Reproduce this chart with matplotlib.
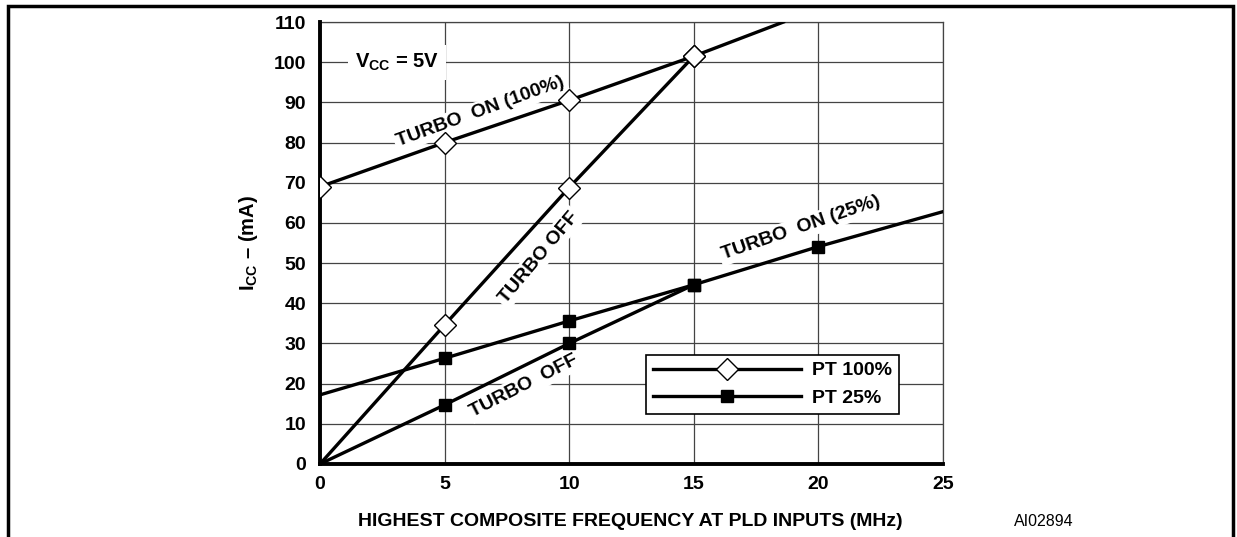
import matplotlib
matplotlib.use("Agg")
import matplotlib.pyplot as plt
from matplotlib.lines import Line2D
from matplotlib.patches import Rectangle

plt.rcParams['font.family'] = ['Liberation Sans', 'DejaVu Sans']
plt.rcParams['font.weight'] = 'bold'
plt.rcParams['mathtext.fontset'] = 'custom'
plt.rcParams['mathtext.rm'] = 'Liberation Sans:bold'
plt.rcParams['mathtext.bf'] = 'Liberation Sans:bold'

# PT 100%
on100_x = [0, 5, 10, 15, 18.6]
on100_y = [69, 80, 90.5, 101.5, 110]
off100_x = [0, 5, 10, 15]
off100_y = [0, 34.6, 68.8, 101.5]
# PT 25%
on25_x = [0, 5, 10, 15, 20, 25]
on25_y = [17.2, 26.3, 35.6, 44.6, 54.1, 62.8]
off25_x = [0, 5, 10, 15]
off25_y = [0, 14.7, 30.0, 44.6]

xticks = [0, 5, 10, 15, 20, 25]
yticks = list(range(0, 111, 10))

fig = plt.figure(figsize=(12.37, 5.37), dpi=100)
ax = fig.add_axes([0.2587, 0.136, 0.5036, 0.823])

lw = 2.4
ax.plot(on100_x, on100_y, color='black', lw=lw, zorder=3)
ax.plot(off100_x, off100_y, color='black', lw=lw, zorder=3)
ax.plot(on25_x, on25_y, color='black', lw=lw, zorder=3)
ax.plot(off25_x, off25_y, color='black', lw=lw, zorder=3)

dia = dict(ls='none', marker='D', ms=11, mfc='white', mec='black', mew=1.0, zorder=5)
sq = dict(ls='none', marker='s', ms=8, mfc='black', mec='black', zorder=5)
ax.plot(on100_x[:4], on100_y[:4], **dia)
ax.plot(off100_x[1:], off100_y[1:], **dia)
ax.plot(on25_x[1:5], on25_y[1:5], **sq)
ax.plot(off25_x[1:], off25_y[1:], **sq)

ax.set_xlim(0, 25)
ax.set_ylim(0, 110)
ax.set_xticks(xticks)
ax.set_yticks(yticks)
ax.grid(True, color='#444444', lw=0.9, zorder=1)
ax.tick_params(length=0, labelsize=14, pad=9)
ax.tick_params(axis='y', pad=10)
for lab in ax.get_xticklabels() + ax.get_yticklabels():
    lab.set_fontweight('bold')

for s in ['top', 'right']:
    ax.spines[s].set_linewidth(0.9)
    ax.spines[s].set_color('#444444')
for s in ['left', 'bottom']:
    ax.spines[s].set_linewidth(2.8)
    ax.spines[s].set_zorder(4)

ax.set_ylabel(r'I$_{\mathrm{CC}}$ – (mA)', fontsize=14.5, fontweight='bold', labelpad=10)

wb = dict(facecolor='white', edgecolor='none', pad=2)
ax.text(3.1, 100, r'V$_{\mathrm{CC}}$ = 5V', fontsize=14.5, ha='center', va='center',
        bbox=dict(facecolor='white', edgecolor='none', pad=5), zorder=2)
ax.text(6.45, 87.6, 'TURBO  ON (100%)', fontsize=14, rotation=20, ha='center', va='center',
        rotation_mode='anchor', bbox=wb, zorder=2)
ax.text(8.78, 51.4, 'TURBO OFF', fontsize=14, rotation=50, ha='center', va='center',
        rotation_mode='anchor', bbox=wb, zorder=2)
ax.text(19.3, 58.7, 'TURBO  ON (25%)', fontsize=14, rotation=19, ha='center', va='center',
        rotation_mode='anchor', bbox=wb, zorder=2)
ax.text(8.2, 19.5, 'TURBO  OFF', fontsize=14, rotation=27, ha='center', va='center',
        rotation_mode='anchor', bbox=wb, zorder=2)

handles = [
    Line2D([], [], color='black', lw=lw, marker='D', ms=11, mfc='white', mec='black', mew=1.0),
    Line2D([], [], color='black', lw=lw, marker='s', ms=8, mfc='black', mec='black'),
]
leg = ax.legend(handles, ['PT 100%', 'PT 25%'], loc='upper right',
                bbox_to_anchor=(0.9294, 0.2466), borderaxespad=0, handlelength=7.6,
                prop={'weight': 'bold', 'size': 14}, fancybox=False, framealpha=1,
                edgecolor='black', borderpad=0.35, labelspacing=0.5, handletextpad=0.6)
leg.get_frame().set_linewidth(1.2)
leg.set_zorder(6)

fig.text(0.5095, 0.028, 'HIGHEST COMPOSITE FREQUENCY AT PLD INPUTS (MHz)', fontsize=14,
         fontweight='bold', ha='center', va='center')
fig.text(0.844, 0.028, 'AI02894', fontsize=11.5, fontweight='normal', ha='center', va='center')

fig.patches.append(Rectangle((8 / 1237, -0.02), 1225 / 1237, 1.02 - 6 / 537,
                             transform=fig.transFigure, fill=False, edgecolor='black',
                             lw=2.5, figure=fig))

fig.savefig('out.png', dpi=100, facecolor='white')
